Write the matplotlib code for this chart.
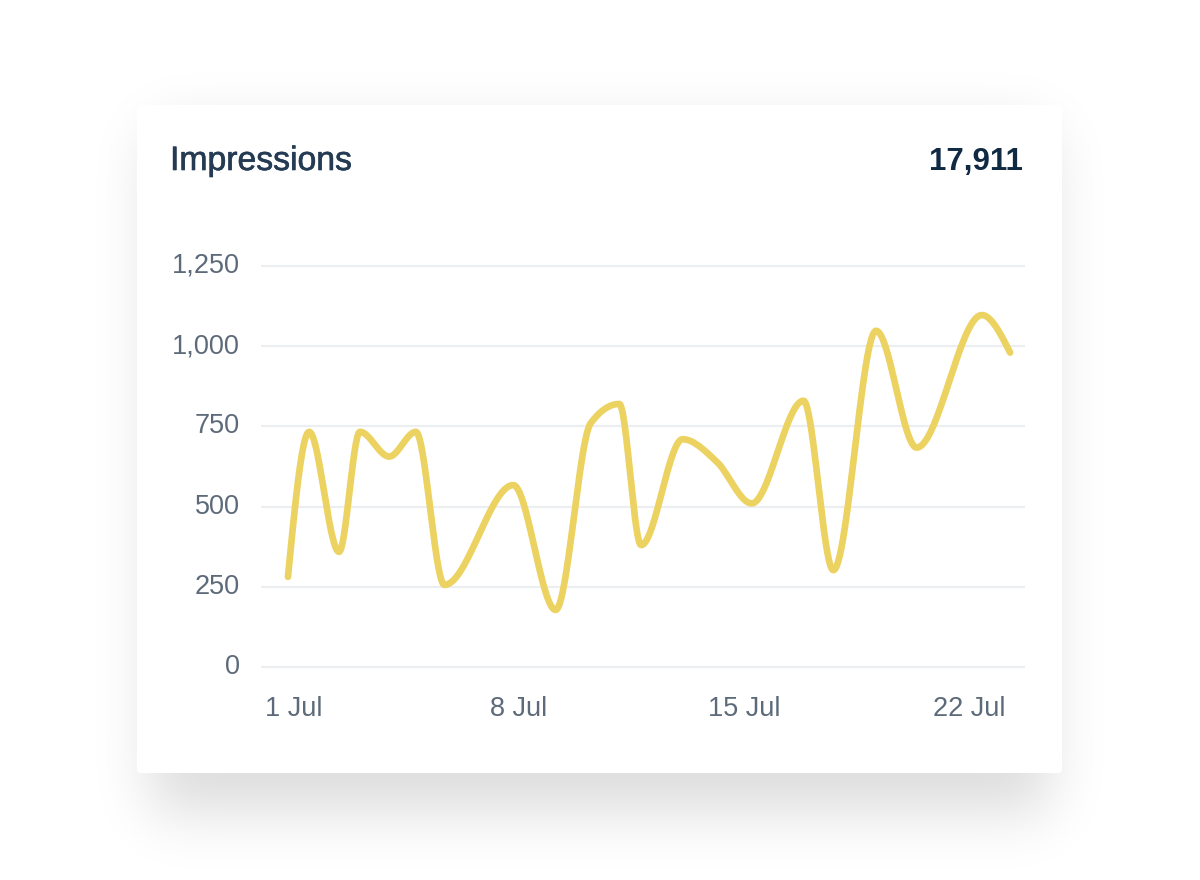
import math
import numpy as np
import matplotlib
matplotlib.use("Agg")
import matplotlib.pyplot as plt
from matplotlib.patches import FancyBboxPatch
from matplotlib.transforms import ScaledTranslation
import matplotlib.patheffects as pe

# ---------------- data ----------------
day_of_july = [0.81, 1.47, 2.40, 3.05, 3.96, 4.79, 5.68, 7.82, 9.14, 10.23, 11.12,
               11.80, 13.09, 14.15, 15.24, 16.85, 17.78, 19.11, 20.37, 22.40, 23.28]
impressions = [281, 733, 359, 733, 656, 733, 256, 567, 178, 760, 820,
               380, 710, 640, 510, 830, 302, 1048, 684, 1097, 980]
x_tick_days = [1, 8, 15, 22]
x_tick_labels = ["1 Jul", "8 Jul", "15 Jul", "22 Jul"]
y_ticks = [0, 250, 500, 750, 1000, 1250]
y_tick_labels = ["0", "250", "500", "750", "1,000", "1,250"]
title_text = "Impressions"
total_text = "17,911"

LINE_COLOR = "#ecd260"
GRID_COLOR = "#eceef2"
TICK_COLOR = "#5d6a7a"
TITLE_COLOR = "#243b53"
TOTAL_COLOR = "#102a43"
FONT = "Liberation Sans"

W, H = 1200, 880


def monotone_x(x, y, steps=60):
    """Monotone cubic interpolation in x (same rule as d3.curveMonotoneX)."""
    x = np.asarray(x, float)
    y = np.asarray(y, float)
    n = len(x)
    h = np.diff(x)
    s = np.diff(y) / h
    sign = lambda v: -1.0 if v < 0 else 1.0
    m = np.zeros(n)
    for i in range(1, n - 1):
        h0, h1, s0, s1 = h[i - 1], h[i], s[i - 1], s[i]
        p = (s0 * h1 + s1 * h0) / (h0 + h1)
        m[i] = (sign(s0) + sign(s1)) * min(abs(s0), abs(s1), 0.5 * abs(p))
    m[0] = (3 * s[0] - m[1]) / 2
    m[-1] = (3 * s[-1] - m[-2]) / 2
    xs, ys = [], []
    for i in range(n - 1):
        t = np.linspace(0, 1, steps, endpoint=(i == n - 2))
        h00 = 2 * t**3 - 3 * t**2 + 1
        h10 = t**3 - 2 * t**2 + t
        h01 = -2 * t**3 + 3 * t**2
        h11 = t**3 - t**2
        xs.append(x[i] + t * h[i])
        ys.append(h00 * y[i] + h10 * h[i] * m[i] + h01 * y[i + 1] + h11 * h[i] * m[i + 1])
    return np.concatenate(xs), np.concatenate(ys)


fig = plt.figure(figsize=(W / 100, H / 100), dpi=100, facecolor="white")

# ---------------- background: shadow + card ----------------
bg = fig.add_axes([0, 0, 1, 1])
bg.set_xlim(0, W)
bg.set_ylim(H, 0)
bg.axis("off")

erf = np.vectorize(math.erf)


def blurred_box(n, a, b, sigma):
    t = np.arange(n) + 0.5
    return 0.5 * (erf((t - a) / (sigma * math.sqrt(2))) - erf((t - b) / (sigma * math.sqrt(2))))


fx = blurred_box(W, 150, 1050, 28)
fy = blurred_box(H, 130, 812, 30)
alpha = 0.14 * np.outer(fy, fx)
img = np.zeros((H, W, 4))
img[..., 3] = alpha
bg.imshow(img, extent=(0, W, H, 0), interpolation="bilinear", zorder=0)

card = FancyBboxPatch((137, 105), 925, 668,
                      boxstyle="round,pad=0,rounding_size=4",
                      facecolor="white", edgecolor="none", zorder=1)
bg.add_patch(card)

# ---------------- chart axes ----------------
px_per_unit = 401 / 1250.0
ypad = 20
ax_left_px, ax_right_px = 261, 1025
ax_bottom_px = 667 + ypad * px_per_unit
ax_top_px = 266 - ypad * px_per_unit
ax = fig.add_axes([ax_left_px / W, 1 - ax_bottom_px / H,
                   (ax_right_px - ax_left_px) / W, (ax_bottom_px - ax_top_px) / H])
ax.patch.set_alpha(0)

px0, px_per_day = 261.9, 32.14
ax.set_xlim((ax_left_px - px0) / px_per_day, (ax_right_px - px0) / px_per_day)
ax.set_ylim(-ypad, 1250 + ypad)

for s in ax.spines.values():
    s.set_visible(False)

ax.set_yticks(y_ticks)
ax.set_yticklabels(y_tick_labels)
ax.set_xticks(x_tick_days)
ax.set_xticklabels(x_tick_labels)
ax.tick_params(axis="both", length=0, labelsize=19.5, labelcolor=TICK_COLOR)
ax.tick_params(axis="y", pad=15)
ax.tick_params(axis="x", pad=16)
up = ScaledTranslation(0, 3 / 100, fig.dpi_scale_trans)
for lab in ax.get_yticklabels():
    lab.set_fontfamily(FONT)
    lab.set_transform(lab.get_transform() + up)
for lab in ax.get_xticklabels():
    lab.set_fontfamily(FONT)

for v in y_ticks:
    ax.axhline(v, color=GRID_COLOR, lw=1.6, zorder=1)

cx, cy = monotone_x(day_of_july, impressions)
ax.plot(cx, cy, color=LINE_COLOR, lw=4.8, solid_capstyle="round",
        solid_joinstyle="round", zorder=3)

# ---------------- header text ----------------
fig.text(170 / W, 1 - 170 / H, title_text, fontsize=24.3, color=TITLE_COLOR,
         family=FONT, ha="left", va="baseline",
         path_effects=[pe.withStroke(linewidth=0.45, foreground=TITLE_COLOR)])
fig.text(1023 / W, 1 - 170 / H, total_text, fontsize=22.5, color=TOTAL_COLOR,
         family=FONT, fontweight="bold", ha="right", va="baseline")

fig.savefig("out.png", dpi=100, facecolor="white")
